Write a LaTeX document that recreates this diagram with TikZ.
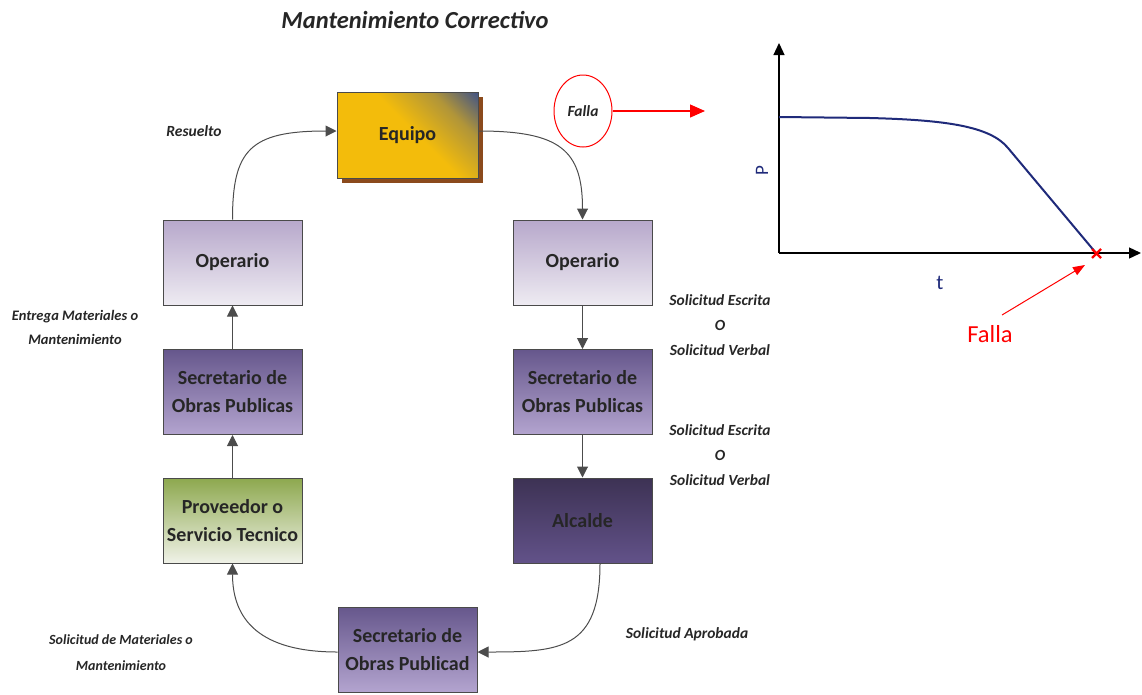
\documentclass[tikz,border=0pt]{standalone}
\usepackage{fontspec}
\setmainfont{Carlito}
\usetikzlibrary{arrows.meta,shapes.geometric}
\definecolor{boxline}{HTML}{4A4A4A}
\definecolor{lav}{HTML}{B7A8CB}
\definecolor{lavlight}{HTML}{EEEBF2}
\definecolor{purp}{HTML}{66578C}
\definecolor{purplight}{HTML}{B3A4CF}
\definecolor{dpurpT}{HTML}{3D3254}
\definecolor{dpurpB}{HTML}{625289}
\definecolor{olive}{HTML}{8DA84E}
\definecolor{olivelight}{HTML}{F0F2E8}
\definecolor{gold}{HTML}{F3BC0B}
\definecolor{steel}{HTML}{354C8E}
\definecolor{shadowbrown}{HTML}{8B4A1C}
\definecolor{navy}{HTML}{1F2A7A}
\pgfdeclareverticalshading{eqshade}{100bp}{color(0bp)=(gold); color(40bp)=(gold); color(58bp)=(gold!65!steel); color(74bp)=(steel)}
\tikzset{
  x=1pt, y=-1pt,
  box/.style={draw=boxline, line width=1pt, minimum width=139pt, minimum height=85pt,
    inner sep=1pt, align=center, font=\fontsize{20}{28}\selectfont\bfseries, text=black!85},
  lightbox/.style={box, top color=lav, bottom color=lavlight},
  midbox/.style={box, top color=purp, bottom color=purplight},
  darkbox/.style={box, top color=dpurpT, bottom color=dpurpB},
  greenbox/.style={box, top color=olive, bottom color=olivelight},
  flow/.style={draw=black!70, line width=1pt, -{Triangle[length=11pt,width=11pt]}},
  lbl/.style={font=\fontsize{15.5}{25}\selectfont\bfseries\itshape, text=black!85, align=center},
}
\begin{document}
\begin{tikzpicture}
\useasboundingbox (0,0) rectangle (1142,694);

% title
\node[font=\fontsize{24.5}{28}\selectfont\bfseries\itshape, text=black!85] (title) at (415,20) {Mantenimiento Correctivo};

% equipment box with offset shadow
\fill[shadowbrown] (342,97) rectangle (483,183);
\node[box, minimum width=141pt, minimum height=86pt, shading=eqshade, shading angle=-45]
  (eq) at (407.5,135) {Equipo};

% left column
\node[lightbox] (opL) at (232.5,262.5) {Operario};
\node[midbox] (secL) at (232.5,392) {Secretario de\\Obras Publicas};
\node[greenbox] (prov) at (232.5,520.5) {Proveedor o\\Servicio Tecnico};

% right column
\node[lightbox] (opR) at (582.5,262.5) {Operario};
\node[midbox] (secR) at (582.5,392) {Secretario de\\Obras Publicas};
\node[darkbox] (alc) at (582.5,520.5) {Alcalde};

% bottom
\node[midbox] (secB) at (407.5,649.5) {Secretario de\\Obras Publicad};

% connectors
\draw[flow] (opL.north) .. controls (232.5,150) and (250,131) .. (eq.west |- 0,131);
\draw[flow] (eq.east |- 0,131) .. controls (560,131) and (582.5,150) .. (opR.north);
\draw[flow] (opR) -- (secR);
\draw[flow] (secR) -- (alc);
\draw[flow] (alc.south -| 600,0) .. controls (600,650) and (560,652) .. (secB.east |- 0,652);
\draw[flow] (secB.west |- 0,652) .. controls (260,652) and (232.5,620) .. (prov.south);
\draw[flow] (prov) -- (secL);
\draw[flow] (secL) -- (opL);

% labels
\node[lbl] (l1) at (194,131) {Resuelto};
\node[lbl, font=\fontsize{14.5}{24}\selectfont\bfseries\itshape] (l2) at (75,327) {Entrega Materiales o\\Mantenimiento};
\node[lbl] (l3) at (720,325) {Solicitud Escrita\\O\\Solicitud Verbal};
\node[lbl] (l4) at (720,455) {Solicitud Escrita\\O\\Solicitud Verbal};
\node[lbl] (l5) at (687,634) {Solicitud Aprobada};
\node[lbl, font=\fontsize{14}{26}\selectfont\bfseries\itshape] (l6) at (121,653) {Solicitud de Materiales o\\Mantenimiento};

% failure marker
\node[draw=red, line width=1pt, ellipse, minimum width=58pt, minimum height=72pt, lbl] (falla) at (583,111) {Falla};
\coordinate (fallaend) at (705,111);
\draw[red, line width=1.2pt, -{Triangle[length=15pt,width=13pt]}] (falla.east) -- (fallaend);

% graph
\coordinate (orig) at (779,253);
\coordinate (ytop) at (779,43);
\coordinate (xend) at (1141,253);
\draw[black, line width=1.3pt, -{Triangle[length=12pt,width=11pt]}] (orig) -- (ytop);
\draw[black, line width=1.3pt, -{Triangle[length=12pt,width=11pt]}] (orig) -- (xend);
\coordinate (cstart) at (779,117);
\coordinate (cfail) at (1096,253);
\draw[navy, line width=2pt, line join=round] (cstart) -- (870,118) .. controls (945,120) and (990,126) .. (1008,148) -- (cfail);
\draw[red, line width=2.2pt] (1092,249) -- (1101,258) (1092,258) -- (1101,249);
\node[navy, rotate=90, font=\fontsize{19}{19}\selectfont] (plabel) at (762,171) {P};
\node[navy, font=\fontsize{21}{21}\selectfont] (tlabel) at (940,283) {t};
\node[red, font=\fontsize{24.5}{24}\selectfont] (fallaB) at (990,334) {Falla};
\coordinate (fallaptr) at (1085,265);
\draw[red, line width=1pt, -{Triangle[length=12pt,width=9pt]}] (1002,315) -- (fallaptr);
\end{tikzpicture}
\end{document}
